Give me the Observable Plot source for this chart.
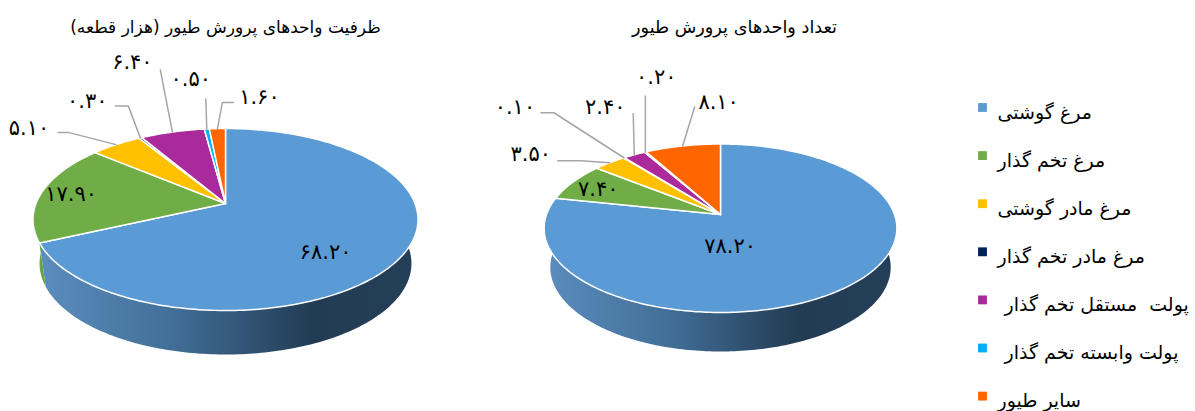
<!DOCTYPE html>
<html lang="fa">
<head>
<meta charset="utf-8">
<style>html,body{margin:0;padding:0;background:#fff}svg{display:block}</style>
<script src="https://cdn.jsdelivr.net/npm/d3@7"></script>
<script src="https://cdn.jsdelivr.net/npm/@observablehq/plot@0.6"></script>
</head>
<body>
<script>
// --- data ---
const categories = ["مرغ گوشتی", "مرغ تخم گذار", "مرغ مادر گوشتی", "مرغ مادر تخم گذار", "پولت  مستقل تخم گذار", "پولت وابسته تخم گذار", "سایر طیور"];
const capacityValues = [68.2, 17.9, 5.1, 0.3, 6.4, 0.5, 1.6];
const unitValues = [78.2, 7.4, 3.5, 0.1, 2.4, 0.2, 8.1];
const capacityTitle = "ظرفیت واحدهای پرورش طیور (هزار قطعه)";
const unitTitle = "تعداد واحدهای پرورش طیور";
const palette = ["#5B9BD5", "#70AD47", "#FFC000", "#002060", "#AB2A9B", "#00B0F0", "#FF6600"];

// --- layout (pixel geometry of the pseudo-3D discs and the callouts, offsets from each slice's rim midpoint) ---
const FONT = "'DejaVu Sans','Noto Sans',sans-serif";
const pies = [
  {id: "cap", title: capacityTitle, values: capacityValues, titleX: 225, titleY: 27, titleSize: 17,
   cx: 225, apex: 203, K: 189.5, k: 88.2, p: 0.1758, depth: 44, shrink: 0.966,
   label: [[-76,-4],[29,2],[-87,-16],[-53,-37],[-40,-70],[-16,-50],[42,-31]],
   leader: [null,null,[[-47,-12],[-58,-12]],[[-12,-32],[-25,-32]],[[-12,-62]],[[-1,-30]],[[5,-26],[16,-26]]]},
  {id: "unit", title: unitTitle, values: unitValues, titleX: 734, titleY: 27, titleSize: 17.7,
   cx: 720, apex: 214, K: 174, k: 82, p: 0.163, depth: 39, shrink: 0.965,
   label: [[-116,-41],[25,7],[-79,-8],[-109,-50],[-29,-47],[11,-75],[36,-44]],
   leader: [null,null,[[-29,-2],[-52,-2]],[[-70,-45],[-83,-45]],[[-1,-41]],[[0,-56]],[[12,-39]]]}
];
const legendIndent = [0, 0, 0, 0, 7, 7, 0];

// --- geometry ---
const rad = d => d * Math.PI / 180;
function project(pie, deg, bottom) {
  const u = Math.sin(rad(deg)), v = -Math.cos(rad(deg)), w = 1 - pie.p * v;
  const s = bottom ? pie.shrink : 1;
  return {x: pie.cx + s * pie.K * u / w, y: pie.apex + pie.k * v / w + (bottom ? pie.depth : 0)};
}
function arcAngles(a0, a1) {
  const out = [], n = Math.max(2, Math.ceil((a1 - a0)));
  for (let i = 0; i <= n; i++) out.push(a0 + (a1 - a0) * i / n);
  return out;
}
const toPersian = v => v.toFixed(2).replace(/\d/g, c => "۰۱۲۳۴۵۶۷۸۹"[+c]);

const slicePts = [], wallPtsBlue = [], wallPtsOther = [], leaderPts = [], labels = [], titles = [];
for (const pie of pies) {
  const total = d3.sum(pie.values);
  let start = 0;
  titles.push({x: pie.titleX, y: pie.titleY, text: pie.title, size: pie.titleSize});
  pie.values.forEach((value, i) => {
    const a0 = start / total * 360, a1 = (start + value) / total * 360;
    start += value;
    const key = pie.id + i;
    slicePts.push({key, category: categories[i], x: pie.cx, y: pie.apex});
    for (const a of arcAngles(a0, a1)) slicePts.push({key, category: categories[i], ...project(pie, a)});
    // visible front wall
    const w0 = Math.max(a0, 80), w1 = Math.min(a1, 272);
    if (w1 > w0) {
      const ang = arcAngles(w0, w1);
      const target = i === 0 ? wallPtsBlue : wallPtsOther;
      const wallKey = "w" + key;
      for (const a of ang) target.push({key: wallKey, ...project(pie, a)});
      for (const a of ang.slice().reverse()) target.push({key: wallKey, ...project(pie, a, true)});
    }
    const rim = project(pie, (a0 + a1) / 2);
    const lab = pie.label[i];
    labels.push({x: rim.x + lab[0], y: rim.y + lab[1], text: toPersian(value)});
    if (pie.leader[i]) {
      leaderPts.push({key, x: rim.x, y: rim.y});
      for (const o of pie.leader[i]) leaderPts.push({key, x: rim.x + o[0], y: rim.y + o[1]});
    }
  });
}
const legendRows = categories.map((c, i) => ({category: c, i, indent: legendIndent[i]}));
const legendY = d => 107 + d.i * 48.1;

const defs = () => {
  const g = d3.create("svg:defs").append("linearGradient").attr("id", "wallGrad");
  [[0, "#5B8DBE"], [0.35, "#426F98"], [0.72, "#223C54"], [1, "#243F58"]].forEach(([o, c]) =>
    g.append("stop").attr("offset", o).attr("stop-color", c));
  return g.node().parentNode;
};

const chart = Plot.plot({
  width: 1195, height: 411, margin: 0,
  style: {background: "#fff", whiteSpace: "pre"},
  x: {domain: [0, 1195], range: [0, 1195], axis: null},
  y: {domain: [0, 411], range: [0, 411], axis: null},
  color: {domain: categories, range: palette},
  marks: [
    defs,
    Plot.line(wallPtsBlue, {x: "x", y: "y", z: "key", curve: "linear-closed", fill: "url(#wallGrad)", stroke: "none"}),
    Plot.line(wallPtsOther, {x: "x", y: "y", z: "key", curve: "linear-closed", fill: "#69A343", stroke: "none"}),
    Plot.line(slicePts, {x: "x", y: "y", z: "key", curve: "linear-closed", fill: "category", stroke: "#fff", strokeWidth: 1.5}),
    Plot.line(leaderPts, {x: "x", y: "y", z: "key", stroke: "#A6A6A6", strokeWidth: 1.5}),
    Plot.text(labels, {x: "x", y: "y", text: "text", fontSize: 21, fontFamily: FONT, fill: "#000"}),
    Plot.text(titles, {x: "x", y: "y", text: "text", fontSize: "size", fontFamily: FONT, fill: "#000"}),
    Plot.dot(legendRows, {x: () => 982, y: legendY, symbol: "square", r: 5, fill: "category", stroke: "none"}),
    Plot.text(legendRows, {x: d => 997 + d.indent, y: d => legendY(d) + 5, text: "category", textAnchor: "start", fontSize: 19, fontFamily: FONT, fill: "#000"})
  ]
});
document.body.appendChild(chart);
</script>
</body>
</html>
